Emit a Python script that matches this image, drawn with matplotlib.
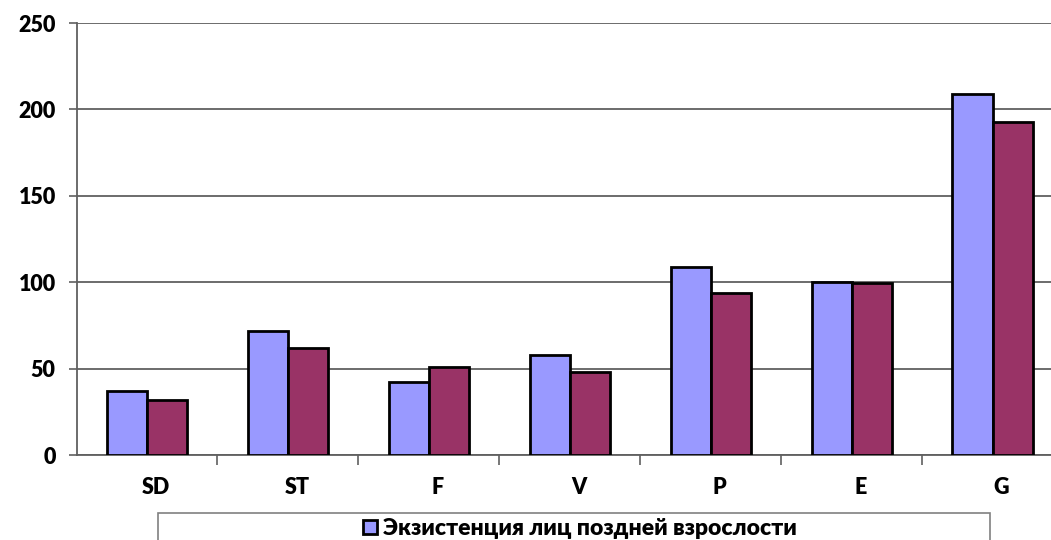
import numpy as np
import matplotlib.pyplot as plt
import matplotlib.transforms as mtransforms
from matplotlib.patches import Patch, Rectangle

plt.rcParams['font.family'] = ['Lato', 'DejaVu Sans']
plt.rcParams['font.weight'] = 'heavy'

categories = ["SD", "ST", "F", "V", "P", "E", "G"]
late_adult = [37, 72, 42, 58, 109, 100, 209]
second_group = [32, 62, 51, 48, 94, 99.5, 193]
yticks = [0, 50, 100, 150, 200, 250]

fig = plt.figure(figsize=(10.51, 5.4), dpi=100)
ax = fig.add_axes([0.0728, 0.1574, 0.9387, 0.8])

x = np.arange(len(categories))
w = 0.285
ax.bar(x - w / 2, late_adult, w, color="#9999FF", edgecolor="black", linewidth=2, zorder=3)
ax.bar(x + w / 2, second_group, w, color="#993366", edgecolor="black", linewidth=2, zorder=3)

ax.set_xlim(-0.5, len(categories) - 0.5)
ax.set_ylim(0, 250)
ax.set_yticks(yticks)
ax.yaxis.grid(True, color="#606060", linewidth=1.3, zorder=0)
ax.tick_params(axis="y", length=6, width=1.2, color="#606060", pad=9, labelsize=15.5)

# category labels sit between the boundary ticks
ax.set_xticks(x)
ax.set_xticklabels(categories, fontsize=15.5)
ax.tick_params(axis="x", length=0, pad=16)
shift = mtransforms.ScaledTranslation(9 / 100, 0, fig.dpi_scale_trans)
for lbl in ax.get_xticklabels():
    lbl.set_transform(lbl.get_transform() + shift)
ax.set_xticks(np.arange(len(categories)) + 0.5, minor=True)
ax.tick_params(axis="x", which="minor", length=7, width=1.2, color="#606060")

for s in ["top", "right"]:
    ax.spines[s].set_visible(False)
for s in ["left", "bottom"]:
    ax.spines[s].set_color("#606060")
    ax.spines[s].set_linewidth(1.3)

# legend frame runs past the bottom edge of the figure
fig.add_artist(Rectangle((158 / 1051, -0.1), 832 / 1051, 0.1 + 27 / 540,
                         transform=fig.transFigure, facecolor="white",
                         edgecolor="#808080", linewidth=1.2))
handles = [Patch(facecolor="#9999FF", edgecolor="black", linewidth=2)]
fig.legend(handles, ["Экзистенция лиц поздней взрослости"],
           loc="upper center", bbox_to_anchor=(580 / 1051, 1 - 518 / 540),
           fontsize=16.5, frameon=False, borderpad=0, handlelength=0.6,
           handleheight=0.6, handletextpad=0.25, borderaxespad=0)

fig.savefig("out.png", dpi=100)
